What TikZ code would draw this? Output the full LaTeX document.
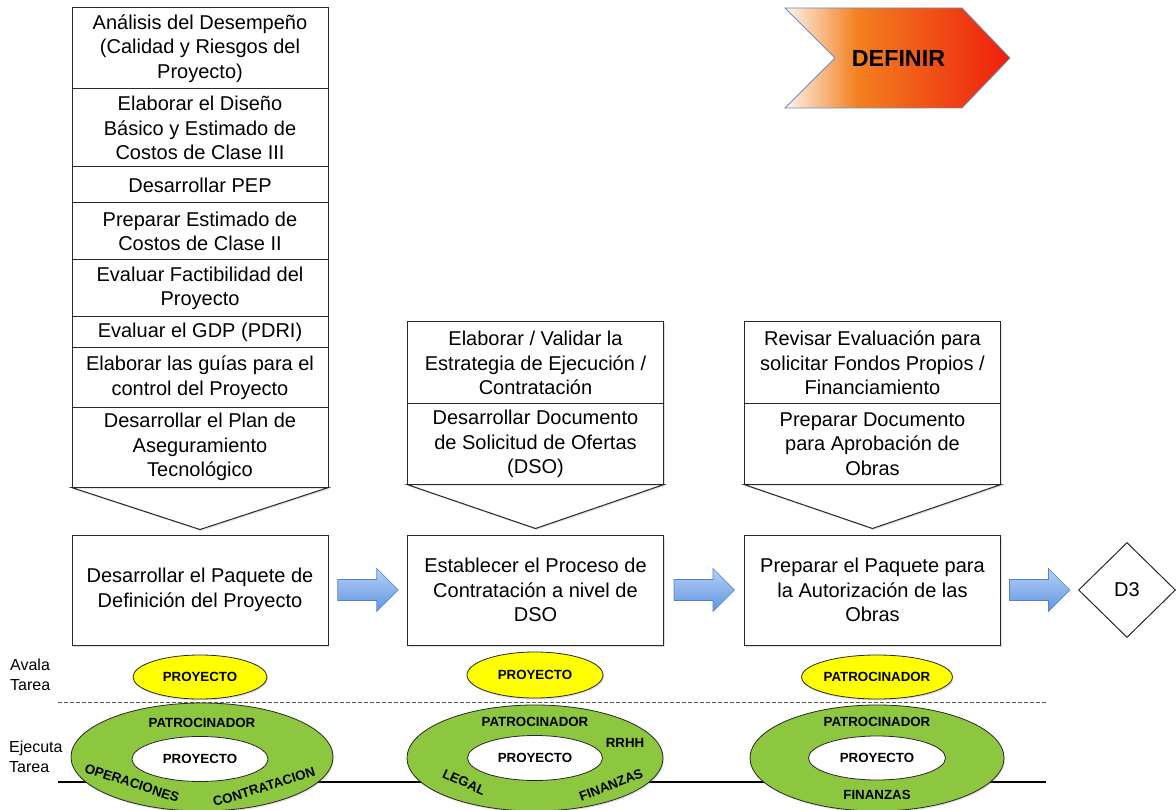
\documentclass[tikz,border=0pt]{standalone}
\usepackage{fontspec}
\setmainfont{Liberation Sans}
\usetikzlibrary{shapes.geometric,shadows,calc}

\definecolor{inkline}{RGB}{40,40,40}
\definecolor{greenfill}{RGB}{141,198,63}
\definecolor{yellowfill}{RGB}{255,255,0}
\definecolor{arrowtop}{RGB}{180,208,246}
\definecolor{arrowbot}{RGB}{98,148,224}
\definecolor{arrowline}{RGB}{85,130,200}
\definecolor{dfA}{RGB}{253,244,236}
\definecolor{dfB}{RGB}{243,128,32}
\definecolor{dfC}{RGB}{238,30,12}
\definecolor{dfline}{RGB}{110,140,190}

\pgfdeclarehorizontalshading{definirfill}{100bp}{color(0bp)=(dfA); color(25bp)=(dfA); color(41bp)=(dfB); color(75bp)=(dfC); color(100bp)=(dfC)}

\newcommand\boxfont{\fontsize{20}{24.5}\selectfont}
\newcommand\lblfont{\bfseries\fontsize{13.3}{15}\selectfont}

\begin{document}
\begin{tikzpicture}[x=1pt,y=-1pt,
  softshadow/.style={drop shadow={shadow xshift=1pt, shadow yshift=-1.5pt, opacity=0.25}},
  stepbox/.style={draw=inkline, fill=white, line width=1pt, align=center, inner sep=0pt,
    minimum width=256pt, font=\boxfont, softshadow},
  chevron/.style={draw=inkline, fill=white, line width=1pt, softshadow},
  avalfill/.style={ellipse, draw=inkline, line width=0.8pt, fill=yellowfill, inner sep=0pt,
    font=\lblfont, softshadow},
  ringfill/.style={ellipse, draw=inkline, line width=0.8pt, fill=greenfill, inner sep=0pt, softshadow},
  corefill/.style={ellipse, draw=inkline, line width=0.8pt, fill=white, inner sep=0pt, font=\lblfont},
  role/.style={font=\lblfont, inner sep=0pt},
  sidelabel/.style={anchor=west, align=left, inner sep=0pt, font=\fontsize{16}{20.5}\selectfont},
  blockarrow/.pic={\path[top color=arrowtop, bottom color=arrowbot, draw=arrowline, line width=0.6pt]
    (-30,-10.5) -- (9,-10.5) -- (9,-21.5) -- (30.5,0) -- (9,21.5) -- (9,10.5) -- (-30,10.5) -- cycle;}
]
\useasboundingbox (0,0) rectangle (1176,810);

% ---------- phase banner ----------
\path[shading=definirfill, draw=dfline, line width=0.8pt]
  (785,8) -- (962,8) -- (1010,58) -- (962,108) -- (785,108) -- (835,58) -- cycle;
\node[font=\bfseries\fontsize{23.3}{26}\selectfont, inner sep=0pt] (definir) at (898.5,58) {DEFINIR};

% ---------- column 1: activities ----------
\node[stepbox, minimum height=81pt] (b11) at (200,48.5) {Análisis del Desempeño\\(Calidad y Riesgos del\\Proyecto)};
\node[stepbox, minimum height=78pt] (b12) at (200,128) {Elaborar el Diseño\\Básico y Estimado de\\Costos de Clase III};
\node[stepbox, minimum height=36pt] (b13) at (200,185) {Desarrollar PEP};
\node[stepbox, minimum height=57pt] (b14) at (200,231.5) {Preparar Estimado de\\Costos de Clase II};
\node[stepbox, minimum height=57pt] (b15) at (200,288.5) {Evaluar Factibilidad del\\Proyecto};
\node[stepbox, minimum height=31pt] (b16) at (200,332.5) {Evaluar el GDP (PDRI)};
\node[stepbox, minimum height=59pt] (b17) at (200,377.5) {Elaborar las guías para el\\control del Proyecto};
\node[stepbox, minimum height=80pt] (b18) at (200,447) {Desarrollar el Plan de\\Aseguramiento\\Tecnológico};
\draw[chevron] (b18.south west) -- ($(b18.south)+(0,42)$) -- (b18.south east) -- cycle;
\node[stepbox, minimum height=110pt] (m1) at (200,590) {Desarrollar el Paquete de\\Definición del Proyecto};

% ---------- column 2 ----------
\node[stepbox, minimum height=82pt] (b21) at (535.5,363) {Elaborar / Validar la\\Estrategia de Ejecución /\\Contratación};
\node[stepbox, minimum height=80pt] (b22) at (535.5,444) {Desarrollar Documento\\de Solicitud de Ofertas\\(DSO)};
\draw[chevron] (b22.south west) -- ($(b22.south)+(0,44)$) -- (b22.south east) -- cycle;
\node[stepbox, minimum height=110pt] (m2) at (535.5,590) {Establecer el Proceso de\\Contratación a nivel de\\DSO};

% ---------- column 3 ----------
\node[stepbox, minimum height=82pt] (b31) at (872.5,363) {Revisar Evaluación para\\solicitar Fondos Propios /\\Financiamiento};
\node[stepbox, minimum height=80pt] (b32) at (872.5,444) {Preparar Documento\\para Aprobación de\\Obras};
\draw[chevron] (b32.south west) -- ($(b32.south)+(0,44)$) -- (b32.south east) -- cycle;
\node[stepbox, minimum height=110pt] (m3) at (872.5,590) {Preparar el Paquete para\\la Autorización de las\\Obras};

% ---------- decision and flow arrows ----------
\node[diamond, draw=inkline, line width=1pt, fill=white, minimum width=97pt, minimum height=95pt,
  inner sep=0pt, font=\boxfont] (d3) at (1127,590) {D3};
\pic at ($(m1.east)!0.5!(m2.west)$) {blockarrow};
\pic at ($(m2.east)!0.5!(m3.west)$) {blockarrow};
\pic at ($(m3.east)!0.5!(d3.west)$) {blockarrow};

% ---------- responsibility bands ----------
\node[sidelabel] (avala) at (10,675) {Avala\\Tarea};
\node[sidelabel] (ejecuta) at (9,757) {Ejecuta\\Tarea};
\coordinate (dashL) at (58,702);
\coordinate (dashR) at (1046,702);
\coordinate (baseL) at (58,782);
\coordinate (baseR) at (1046,782);
\draw[black!65, line width=1pt, dash pattern=on 3.5pt off 2.5pt] (dashL) -- (dashR);
\draw[black, line width=1.4pt] (baseL) -- (baseR);

% approving role
\node[avalfill, minimum width=134pt, minimum height=44pt] (y1) at (200,677) {PROYECTO};
\node[avalfill, minimum width=136pt, minimum height=46pt] (y2) at (535,675) {PROYECTO};
\node[avalfill, minimum width=138pt, minimum height=44pt] (y3) at (877,677) {PATROCINADOR};

% executing roles
\node[ringfill, minimum width=262pt, minimum height=108pt] (g1) at (202,757) {};
\node[corefill, minimum width=136pt, minimum height=45pt] (w1) at (200,759) {PROYECTO};
\node[role] (p1) at (202,723) {PATROCINADOR};
\node[role, rotate=-18] (o1) at (132,783) {OPERACIONES};
\node[role, rotate=17] (c1) at (264,787) {CONTRATACION};

\node[ringfill, minimum width=256pt, minimum height=106pt] (g2) at (535,758) {};
\node[corefill, minimum width=135pt, minimum height=45pt] (w2) at (535,758) {PROYECTO};
\node[role] (p2) at (535,722) {PATROCINADOR};
\node[role] (r2) at (625,743) {RRHH};
\node[role, rotate=-24] (l2) at (464,782) {LEGAL};
\node[role, rotate=21] (f2) at (611,785) {FINANZAS};

\node[ringfill, minimum width=254pt, minimum height=106pt] (g3) at (877,758) {};
\node[corefill, minimum width=137pt, minimum height=44pt] (w3) at (877,758) {PROYECTO};
\node[role] (p3) at (877,722) {PATROCINADOR};
\node[role] (f3) at (877,795) {FINANZAS};
\end{tikzpicture}
\end{document}
